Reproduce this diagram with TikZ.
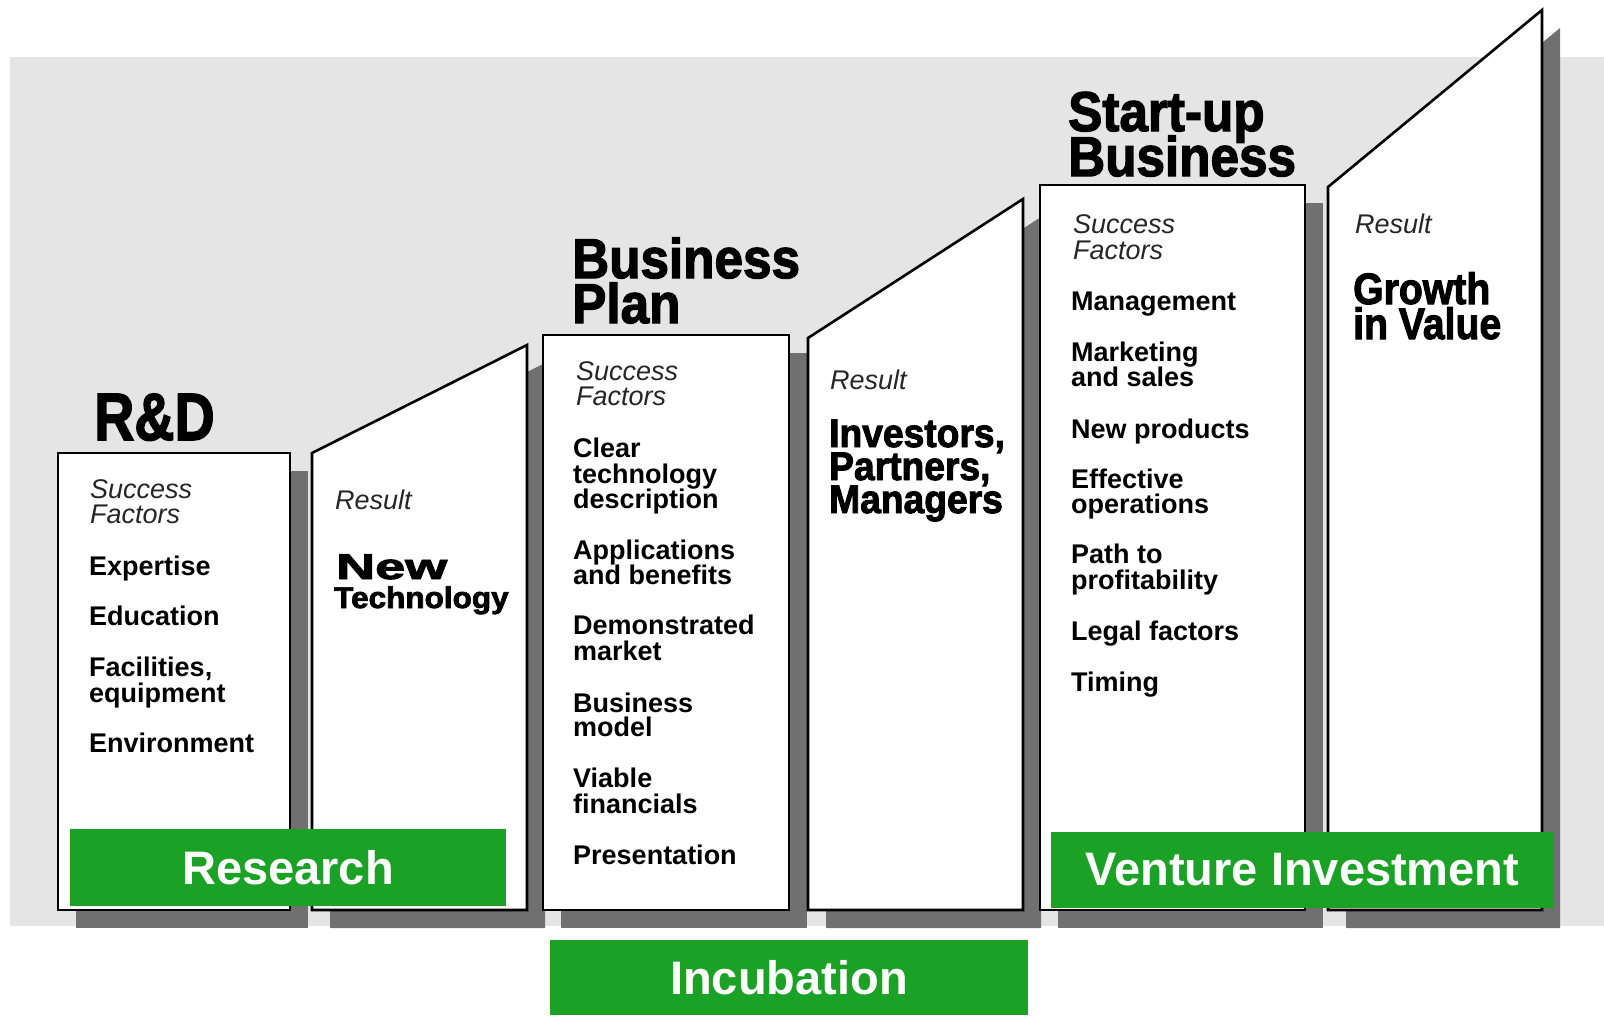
\documentclass[tikz,border=0pt]{standalone}
\usepackage{fontspec}
\usepackage{graphicx}
\setmainfont{Liberation Sans}
\newfontfamily\hfont[FakeBold=2.4]{Liberation Sans}
\definecolor{bgtex}{gray}{0.9}
\definecolor{shade}{gray}{0.44}
\definecolor{stagegreen}{RGB}{27,161,38}
% heading: size, x-scale, text
\newcommand{\hd}[3]{\hfont\bfseries\fontsize{#1}{#1}\selectfont\scalebox{#2}[1]{#3}}
% stacked heading: size, leading, x-scale, lines (as \hbox{...}\hbox{...})
\newcommand{\hstack}[4]{\hfont\bfseries\fontsize{#1}{#2}\selectfont\scalebox{#3}[1]{\vtop{\baselineskip=#2pt\lineskiplimit=-\maxdimen #4}}}
\begin{document}
\begin{tikzpicture}[x=1pt,y=-1pt,
  panel/.style={draw=black, line width=2.6pt, fill=white, line join=miter},
  shadowc/.style={fill=shade, shift={(18,18)}},
  item/.style={anchor=base west, inner sep=0pt, font=\fontsize{27}{26}\selectfont\bfseries},
  sfac/.style={anchor=base west, inner sep=0pt, text=black!85, font=\fontsize{27}{26}\selectfont\itshape},
  head/.style={anchor=base west, inner sep=0pt},
  stage/.style={fill=stagegreen, text=white, font=\fontsize{47}{47}\selectfont\bfseries, inner sep=0pt}
]
\useasboundingbox (0,0) rectangle (1604,1015);
% textured background
\fill[bgtex] (10,57) rectangle (1604,926);

% shadows
\fill[shadowc] (58,453) rectangle (290,910);
\fill[shadowc] (312,453) -- (527,345) -- (527,910) -- (312,910) -- cycle;
\fill[shadowc] (543,335) rectangle (789,910);
\fill[shadowc] (808,338) -- (1023,199) -- (1023,910) -- (808,910) -- cycle;
\fill[shadowc] (1040,185) rectangle (1305,910);
\fill[shadowc] (1328,187) -- (1542,10) -- (1542,910) -- (1328,910) -- cycle;

% panels
\draw[panel] (58,453) rectangle (290,910);
\draw[panel] (312,453) -- (527,345) -- (527,910) -- (312,910) -- cycle;
\draw[panel] (543,335) rectangle (789,910);
\draw[panel] (808,338) -- (1023,199) -- (1023,910) -- (808,910) -- cycle;
\draw[panel] (1040,185) rectangle (1305,910);
\draw[panel] (1328,187) -- (1542,10) -- (1542,910) -- (1328,910) -- cycle;

% headings
\node[head] (rdT) at (94,440) {\hd{67}{0.83}{R\&D}};
\node[head] (bpT) at (572,278) {\hstack{56}{45}{0.915}{\hbox{Business}\hbox{Plan}}};
\node[head] (sbT) at (1068,131) {\hstack{56}{45}{0.915}{\hbox{Start-up}\hbox{Business}}};

% results
\node[sfac] (r1) at (335,509) {Result};
\node[head] (r1a) at (336,579) {\hd{36}{1.5}{New}};
\node[head] (r1b) at (334,608) {\hd{30}{1.05}{Technology}};

\node[sfac] (r2) at (830,389) {Result};
\node[head] (r2a) at (829,447) {\hstack{40}{33}{0.93}{\hbox{Investors,}\hbox{Partners,}\hbox{Managers}}};

\node[sfac] (r3) at (1355,233) {Result};
\node[head] (r3a) at (1353,304) {\hstack{44}{35}{0.89}{\hbox{Growth}\hbox{in Value}}};

% R&D factors
\node[sfac] (rdS1) at (90,498) {Success};
\node[sfac] (rdS2) at (90,523) {Factors};
\foreach \t/\y [count=\i] in {Expertise/575, Education/625, {Facilities,}/676, equipment/702, Environment/752}
  \node[item] (rd\i) at (89,\y) {\t};

% Business plan factors
\node[sfac] (bpS1) at (576,380) {Success};
\node[sfac] (bpS2) at (576,405) {Factors};
\foreach \t/\y [count=\i] in {Clear/457, technology/483, description/508, Applications/559, and benefits/584, Demonstrated/634, market/660, Business/712, model/736, Viable/787, financials/813, Presentation/864}
  \node[item] (bp\i) at (573,\y) {\t};

% Start-up factors
\node[sfac] (sbS1) at (1073,233) {Success};
\node[sfac] (sbS2) at (1073,259) {Factors};
\foreach \t/\y [count=\i] in {Management/310, Marketing/361, and sales/386, New products/438, Effective/488, operations/513, Path to/563, profitability/589, Legal factors/640, Timing/691}
  \node[item] (sb\i) at (1071,\y) {\t};

% stages
\node[stage, minimum width=436pt, minimum height=77pt] (research) at (288,867.5) {Research};
\node[stage, minimum width=478pt, minimum height=75pt] (incub) at (789,977.5) {Incubation};
\node[stage, minimum width=503pt, minimum height=76pt] (venture) at (1302.5,870) {Venture Investment};
\end{tikzpicture}
\end{document}
